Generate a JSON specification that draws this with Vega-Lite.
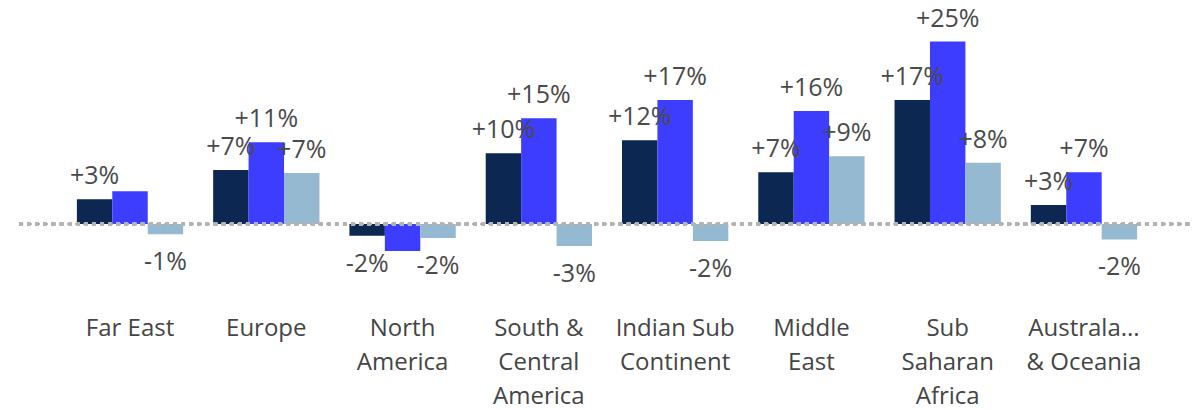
{
  "$schema": "https://vega.github.io/schema/vega-lite/v6.json",
  "width": 1172,
  "height": 300,
  "autosize": {"type": "none"},
  "padding": {"left": 21, "top": 0, "right": 9, "bottom": 110},
  "config": {"view": {"stroke": null}, "font": "Open Sans"},
  "data": {"values": [
    {"region": "Far East", "series": "S1", "value": 3.4, "label": "+3%"},
    {"region": "Far East", "series": "S2", "value": 4.5, "label": ""},
    {"region": "Far East", "series": "S3", "value": -1.4, "label": "-1%"},
    {"region": "Europe", "series": "S1", "value": 7.4, "label": "+7%"},
    {"region": "Europe", "series": "S2", "value": 11.2, "label": "+11%"},
    {"region": "Europe", "series": "S3", "value": 7.0, "label": "+7%"},
    {"region": "North America", "series": "S1", "value": -1.6, "label": "-2%"},
    {"region": "North America", "series": "S2", "value": -3.7, "label": ""},
    {"region": "North America", "series": "S3", "value": -1.9, "label": "-2%"},
    {"region": "South & Central America", "series": "S1", "value": 9.7, "label": "+10%"},
    {"region": "South & Central America", "series": "S2", "value": 14.5, "label": "+15%"},
    {"region": "South & Central America", "series": "S3", "value": -3.0, "label": "-3%"},
    {"region": "Indian Sub Continent", "series": "S1", "value": 11.5, "label": "+12%"},
    {"region": "Indian Sub Continent", "series": "S2", "value": 17.0, "label": "+17%"},
    {"region": "Indian Sub Continent", "series": "S3", "value": -2.3, "label": "-2%"},
    {"region": "Middle East", "series": "S1", "value": 7.1, "label": "+7%"},
    {"region": "Middle East", "series": "S2", "value": 15.5, "label": "+16%"},
    {"region": "Middle East", "series": "S3", "value": 9.3, "label": "+9%"},
    {"region": "Sub Saharan Africa", "series": "S1", "value": 17.0, "label": "+17%"},
    {"region": "Sub Saharan Africa", "series": "S2", "value": 25.0, "label": "+25%"},
    {"region": "Sub Saharan Africa", "series": "S3", "value": 8.4, "label": "+8%"},
    {"region": "Australasia & Oceania", "series": "S1", "value": 2.6, "label": "+3%"},
    {"region": "Australasia & Oceania", "series": "S2", "value": 7.1, "label": "+7%"},
    {"region": "Australasia & Oceania", "series": "S3", "value": -2.1, "label": "-2%"}
  ]},
  "encoding": {
    "x": {
      "field": "region", "type": "nominal", "sort": null,
      "scale": {"paddingInner": 0.22, "paddingOuter": 0.41},
      "axis": {
        "title": null, "domain": false, "ticks": false, "labelAngle": 0,
        "labelFontSize": 24, "labelFontWeight": 500, "labelColor": "#454545", "labelPadding": 16,
        "labelLineHeight": 34, "labelBaseline": "top",
        "labelExpr": "{'Far East':['Far East'],'Europe':['Europe'],'North America':['North','America'],'South & Central America':['South &','Central','America'],'Indian Sub Continent':['Indian Sub','Continent'],'Middle East':['Middle','East'],'Sub Saharan Africa':['Sub','Saharan','Africa'],'Australasia & Oceania':['Australa...','& Oceania']}[datum.label]"
      }
    },
    "xOffset": {"field": "series", "type": "nominal", "scale": {"paddingInner": 0, "paddingOuter": 0}},
    "y": {"field": "value", "type": "quantitative", "scale": {"domain": [-10.4, 30.7], "nice": false, "zero": false}, "axis": null}
  },
  "layer": [
    {
      "mark": {"type": "bar"},
      "encoding": {
        "color": {"field": "series", "type": "nominal", "legend": null,
          "scale": {"domain": ["S1", "S2", "S3"], "range": ["#0b2752", "#3d3dff", "#95b9d1"]}},
        "y2": {"datum": 0}
      }
    },
    {
      "transform": [{"filter": "datum.value >= 0"}],
      "mark": {"type": "text", "fontSize": 25, "fontWeight": 500, "color": "#4a4a4a", "baseline": "middle", "dy": -23},
      "encoding": {"text": {"field": "label"}}
    },
    {
      "transform": [{"filter": "datum.value < 0"}],
      "mark": {"type": "text", "fontSize": 25, "fontWeight": 500, "color": "#4a4a4a", "baseline": "middle", "dy": 28},
      "encoding": {"text": {"field": "label"}}
    },
    {
      "mark": {"type": "rule", "color": "#b4b4b4", "strokeWidth": 4, "strokeCap": "round", "strokeDash": [0.1, 8]},
      "encoding": {"x": {"value": 0}, "x2": {"value": 1170}, "y": {"datum": 0}, "xOffset": null}
    }
  ]
}
